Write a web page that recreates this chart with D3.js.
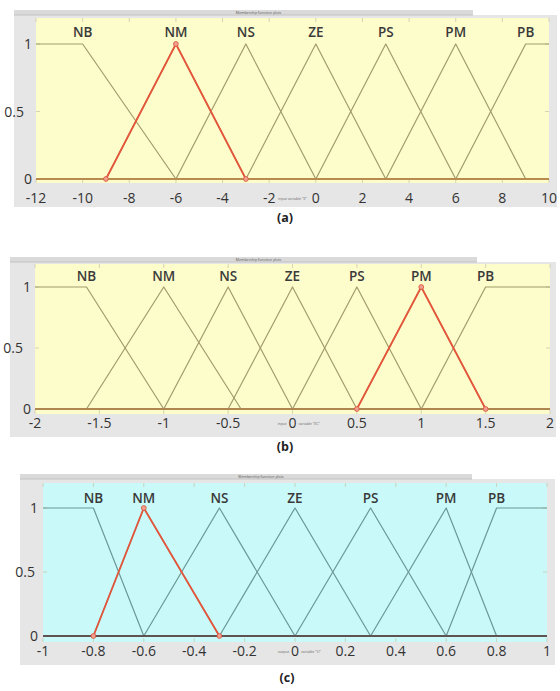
<!DOCTYPE html>
<html>
<head>
<meta charset="utf-8">
<script src="https://cdn.jsdelivr.net/npm/d3@7"></script>
<style>
  html, body { margin: 0; padding: 0; background: #ffffff; }
  svg { display: block; }
</style>
</head>
<body>
<svg id="chart" width="560" height="691"></svg>
<script>
// Membership function sets for the three fuzzy variables
const mfNames = ["NB", "NM", "NS", "ZE", "PS", "PM", "PB"];

// Variable E (error): trapezoid ends, triangles inside
const domainE = [-12, 10];
const paramsE = [[-12, -12, -10, -6], [-9, -6, -3], [-6, -3, 0], [-3, 0, 3], [0, 3, 6], [3, 6, 9], [6, 9, 10, 10]];
const ticksE = [-12, -10, -8, -6, -4, -2, 0, 2, 4, 6, 8, 10];
const selectedE = 1;

// Variable EC (error change)
const domainEC = [-2, 2];
const paramsEC = [[-2, -2, -1.6, -1], [-1.6, -1, -0.4], [-1, -0.5, 0], [-0.5, 0, 0.5], [0, 0.5, 1], [0.5, 1, 1.5], [1, 1.5, 2, 2]];
const ticksEC = [-2, -1.5, -1, -0.5, 0, 0.5, 1, 1.5, 2];
const selectedEC = 5;

// Output variable U
const domainU = [-1, 1];
const paramsU = [[-1, -1, -0.8, -0.6], [-0.8, -0.6, -0.3], [-0.6, -0.3, 0], [-0.3, 0, 0.3], [0, 0.3, 0.6], [0.3, 0.6, 0.8], [0.6, 0.8, 1, 1]];
const ticksU = [-1, -0.8, -0.6, -0.4, -0.2, 0, 0.2, 0.4, 0.6, 0.8, 1];
const selectedU = 1;

const yTicks = [0, 0.5, 1];
const captions = ["(a)", "(b)", "(c)"];
// axis names; the second and third are split around the "0" tick label
const varLabels = [["input variable \"E\""], ["input", "variable \"EC\""], ["output", "variable \"U\""]];
const titleText = "Membership function plots";

// Layout and style of each panel
const panels = [
  {
    domain: domainE, params: paramsE, ticks: ticksE, selected: selectedE,
    frame: [14, 10, 557, 207], bandEnd: 473,
    xr: [36, 549], y0: 179, y1: 44, top: 18, bottom: 183,
    tickBase: 203, labelBase: 37, cap: [285, 222],
    yLabEnd: { 0: 32, 0.5: 24, 1: 32 },
    bg: "#fdfccb", line: "#a29c6c", base: "#b98a4e"
  },
  {
    domain: domainEC, params: paramsEC, ticks: ticksEC, selected: selectedEC,
    frame: [10, 257, 556, 437], bandEnd: 477,
    xr: [35, 550], y0: 409, y1: 287, top: 264, bottom: 414,
    tickBase: 428, labelBase: 281, cap: [285, 451],
    yLabEnd: { 0: 31, 0.5: 23, 1: 31 },
    bg: "#fdfccb", line: "#a29c6c", base: "#b08650"
  },
  {
    domain: domainU, params: paramsU, ticks: ticksU, selected: selectedU,
    frame: [20, 474, 555, 665], bandEnd: 472,
    xr: [43, 547], y0: 636, y1: 508, top: 483, bottom: 642,
    tickBase: 656, labelBase: 503, cap: [287, 682],
    yLabEnd: { 0: 38, 0.5: 35, 1: 38 },
    bg: "#c9f9f9", line: "#6c9896", base: "#5e5252"
  }
];

const svg = d3.select("#chart");
const font = "'Open Sans', 'Liberation Sans', sans-serif";

// Vertices of a membership function over the whole universe
function mfPoints(p, dom) {
  const pts = [];
  if (p.length === 3) {
    pts.push([dom[0], 0], [p[0], 0], [p[1], 1], [p[2], 0], [dom[1], 0]);
  } else {
    if (p[1] > dom[0]) pts.push([dom[0], 0], [p[0], 0]);
    pts.push([p[1], 1], [p[2], 1]);
    if (p[2] < dom[1]) pts.push([p[3], 0], [dom[1], 0]);
  }
  return pts;
}
// Only the raised (non-zero) part
function raisedPoints(p) {
  return p.length === 3 ? [[p[0], 0], [p[1], 1], [p[2], 0]] : [[p[0], 0], [p[1], 1], [p[2], 1], [p[3], 0]];
}
function labelPos(p, i) {
  if (p.length === 3) return p[1];
  return i === 0 ? p[2] : p[1];
}

panels.forEach((P, k) => {
  const g = svg.append("g");
  const [fx0, fy0, fx1, fy1] = P.frame;

  // window frame
  g.append("rect").attr("x", fx0).attr("y", fy0 + 5).attr("width", fx1 - fx0).attr("height", fy1 - fy0 - 5)
    .attr("fill", "#e6e6e6");
  g.append("rect").attr("x", fx0).attr("y", fy0).attr("width", P.bandEnd - fx0).attr("height", 5)
    .attr("fill", "#dadada");
  g.append("line").attr("x1", fx0).attr("x2", P.bandEnd).attr("y1", fy0 + 5).attr("y2", fy0 + 5)
    .attr("stroke", "#c2c2c2").attr("stroke-width", 1);
  g.append("text").attr("x", (fx0 + P.bandEnd) / 2 + 15).attr("y", fy0 + 4)
    .attr("text-anchor", "middle").attr("font-family", font).attr("font-size", 3.6)
    .attr("fill", "#555").text(titleText);

  const x = d3.scaleLinear().domain(P.domain).range(P.xr);
  const y = d3.scaleLinear().domain([0, 1]).range([P.y0, P.y1]);

  // plot area
  g.append("rect").attr("x", P.xr[0]).attr("y", P.top).attr("width", P.xr[1] - P.xr[0])
    .attr("height", P.bottom - P.top).attr("fill", P.bg);

  // inward tick marks on the box
  const tg = g.append("g").attr("stroke", "#c9c9b0").attr("stroke-width", 0.8);
  P.ticks.forEach(t => {
    tg.append("line").attr("x1", x(t)).attr("x2", x(t)).attr("y1", P.top).attr("y2", P.top + 4);
    tg.append("line").attr("x1", x(t)).attr("x2", x(t)).attr("y1", P.bottom).attr("y2", P.bottom - 4);
  });
  yTicks.forEach(t => {
    tg.append("line").attr("x1", P.xr[0]).attr("x2", P.xr[0] + 4).attr("y1", y(t)).attr("y2", y(t));
    tg.append("line").attr("x1", P.xr[1]).attr("x2", P.xr[1] - 4).attr("y1", y(t)).attr("y2", y(t));
  });

  const line = d3.line().x(d => x(d[0])).y(d => y(d[1]));

  // all membership functions
  P.params.forEach((p, i) => {
    g.append("path").attr("d", line(mfPoints(p, P.domain))).attr("fill", "none")
      .attr("stroke", P.line).attr("stroke-width", 1.2).attr("stroke-linejoin", "round");
  });

  // zero line where the curves overlap
  g.append("path").attr("d", line([[P.domain[0], 0], [P.domain[1], 0]]))
    .attr("stroke", P.base).attr("stroke-width", 2).attr("fill", "none");

  // selected membership function
  const sp = raisedPoints(P.params[P.selected]);
  g.append("path").attr("d", line(sp)).attr("fill", "none")
    .attr("stroke", "#e4553a").attr("stroke-width", 1.8).attr("stroke-linejoin", "round");
  g.selectAll(null).data(sp).enter().append("circle")
    .attr("cx", d => x(d[0])).attr("cy", d => y(d[1])).attr("r", 2.4)
    .attr("fill", "#f0a090").attr("stroke", "#d8503a").attr("stroke-width", 0.8);

  // membership function names
  P.params.forEach((p, i) => {
    g.append("text").attr("x", x(labelPos(p, i))).attr("y", P.labelBase)
      .attr("text-anchor", "middle").attr("font-family", font).attr("font-size", 13.5)
      .attr("font-weight", 600).attr("fill", "#3a3a3a").text(mfNames[i]);
  });

  // variable name under the axis
  const vl = varLabels[k];
  if (vl.length === 1) {
    g.append("text").attr("x", (P.xr[0] + P.xr[1]) / 2).attr("y", P.tickBase - 3)
      .attr("text-anchor", "middle").attr("font-family", font).attr("font-size", 3.6)
      .attr("fill", "#666").text(vl[0]);
  } else {
    g.append("text").attr("x", x(0) - 6).attr("y", P.tickBase - 3)
      .attr("text-anchor", "end").attr("font-family", font).attr("font-size", 3.6)
      .attr("fill", "#666").text(vl[0]);
    g.append("text").attr("x", x(0) + 6).attr("y", P.tickBase - 3)
      .attr("text-anchor", "start").attr("font-family", font).attr("font-size", 3.6)
      .attr("fill", "#666").text(vl[1]);
  }

  // x tick labels
  P.ticks.forEach(t => {
    g.append("text").attr("x", x(t)).attr("y", P.tickBase)
      .attr("text-anchor", "middle").attr("font-family", font).attr("font-size", 14)
      .attr("fill", "#333").text(String(t));
  });

  // y tick labels
  yTicks.forEach(t => {
    g.append("text").attr("x", P.yLabEnd[t]).attr("y", y(t) + 5)
      .attr("text-anchor", "end").attr("font-family", font).attr("font-size", 14)
      .attr("fill", "#333").text(String(t));
  });

  // caption
  svg.append("text").attr("x", P.cap[0]).attr("y", P.cap[1])
    .attr("text-anchor", "middle").attr("font-family", font).attr("font-size", 12.5)
    .attr("font-weight", "bold").attr("fill", "#222").text(captions[k]);
});
</script>
</body>
</html>
